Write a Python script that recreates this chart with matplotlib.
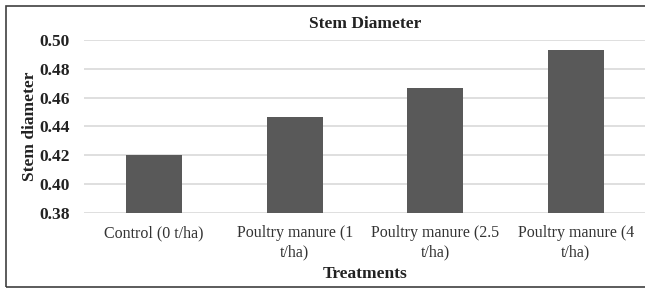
import matplotlib
matplotlib.use("Agg")
import matplotlib.pyplot as plt
from matplotlib.patches import Rectangle

categories = ["Control (0 t/ha)", "Poultry manure (1\nt/ha)", "Poultry manure (2.5\nt/ha)", "Poultry manure (4\nt/ha)"]
values = [0.420, 0.4465, 0.4665, 0.4933]
yticks = [0.38, 0.40, 0.42, 0.44, 0.46, 0.48, 0.50]

plt.rcParams['font.family'] = ['Liberation Serif', 'DejaVu Serif']

W, H = 645, 289
fig = plt.figure(figsize=(W/100, H/100), dpi=100)
fig.patches.append(Rectangle((6/W, 2/H), 1.2, (287-6)/H, transform=fig.transFigure,
                             fill=False, edgecolor='#404040', linewidth=1.2))

ax = fig.add_axes([84/W, 1-212.7/H, (646-84)/W, (212.7-40)/H])
x = range(len(categories))
ax.bar(x, values, width=0.4, color='#595959', zorder=3)
ax.set_ylim(0.38, 0.50)
ax.set_xlim(-0.5, len(categories)-0.5)
ax.set_yticks(yticks)
ax.set_yticklabels([f"{v:.2f}" for v in yticks], fontweight='bold', fontsize=12.5, color='#222222')
ax.set_xticks(list(x))
ax.set_xticklabels(categories, fontsize=11.5, color='#333333', linespacing=1.3)
ax.tick_params(axis='y', length=0, pad=10)
ax.tick_params(axis='x', length=0, pad=9)
ax.grid(axis='y', color='#d9d9d9', linewidth=1.2, zorder=0)
for s in ax.spines.values():
    s.set_visible(False)
ax.set_title("Stem Diameter", fontweight='bold', fontsize=12.5, pad=9, color='#222222')
ax.set_ylabel("Stem diameter", fontweight='bold', fontsize=12.5, color='#222222', labelpad=1)
ax.set_xlabel("Treatments", fontweight='bold', fontsize=12.5, color='#222222', labelpad=4)

fig.savefig("out.png", dpi=100)
